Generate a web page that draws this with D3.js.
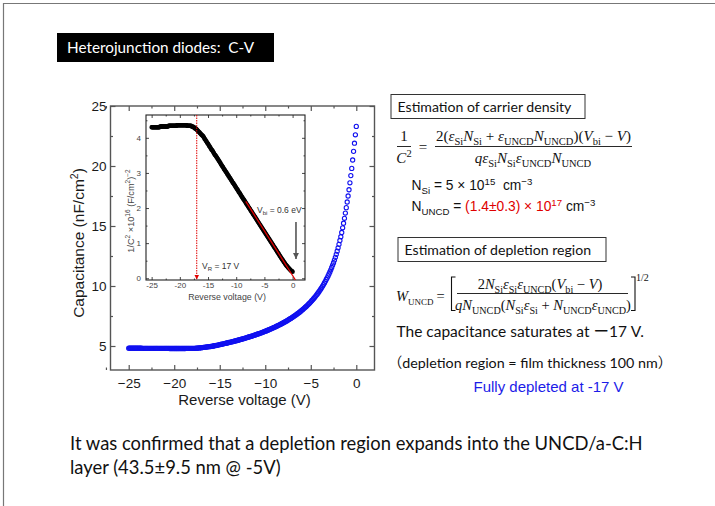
<!DOCTYPE html>
<html>
<head>
<meta charset="utf-8">
<script src="https://cdn.jsdelivr.net/npm/d3@7"></script>
<style>
  body { margin: 0; background: #fff; }
  svg { display: block; }
</style>
</head>
<body>
<svg id="slide" width="715" height="506"></svg>
<script>
// Reverse-voltage sweep (V), 0.1 V steps
const voltage = [
  -25,-24.9,-24.8,-24.7,-24.6,-24.5,-24.4,-24.3,-24.2,-24.1,
  -24,-23.9,-23.8,-23.7,-23.6,-23.5,-23.4,-23.3,-23.2,-23.1,
  -23,-22.9,-22.8,-22.7,-22.6,-22.5,-22.4,-22.3,-22.2,-22.1,
  -22,-21.9,-21.8,-21.7,-21.6,-21.5,-21.4,-21.3,-21.2,-21.1,
  -21,-20.9,-20.8,-20.7,-20.6,-20.5,-20.4,-20.3,-20.2,-20.1,
  -20,-19.9,-19.8,-19.7,-19.6,-19.5,-19.4,-19.3,-19.2,-19.1,
  -19,-18.9,-18.8,-18.7,-18.6,-18.5,-18.4,-18.3,-18.2,-18.1,
  -18,-17.9,-17.8,-17.7,-17.6,-17.5,-17.4,-17.3,-17.2,-17.1,
  -17,-16.9,-16.8,-16.7,-16.6,-16.5,-16.4,-16.3,-16.2,-16.1,
  -16,-15.9,-15.8,-15.7,-15.6,-15.5,-15.4,-15.3,-15.2,-15.1,
  -15,-14.9,-14.8,-14.7,-14.6,-14.5,-14.4,-14.3,-14.2,-14.1,
  -14,-13.9,-13.8,-13.7,-13.6,-13.5,-13.4,-13.3,-13.2,-13.1,
  -13,-12.9,-12.8,-12.7,-12.6,-12.5,-12.4,-12.3,-12.2,-12.1,
  -12,-11.9,-11.8,-11.7,-11.6,-11.5,-11.4,-11.3,-11.2,-11.1,
  -11,-10.9,-10.8,-10.7,-10.6,-10.5,-10.4,-10.3,-10.2,-10.1,
  -10,-9.9,-9.8,-9.7,-9.6,-9.5,-9.4,-9.3,-9.2,-9.1,
  -9,-8.9,-8.8,-8.7,-8.6,-8.5,-8.4,-8.3,-8.2,-8.1,
  -8,-7.9,-7.8,-7.7,-7.6,-7.5,-7.4,-7.3,-7.2,-7.1,
  -7,-6.9,-6.8,-6.7,-6.6,-6.5,-6.4,-6.3,-6.2,-6.1,
  -6,-5.9,-5.8,-5.7,-5.6,-5.5,-5.4,-5.3,-5.2,-5.1,
  -5,-4.9,-4.8,-4.7,-4.6,-4.5,-4.4,-4.3,-4.2,-4.1,
  -4,-3.9,-3.8,-3.7,-3.6,-3.5,-3.4,-3.3,-3.2,-3.1,
  -3,-2.9,-2.8,-2.7,-2.6,-2.5,-2.4,-2.3,-2.2,-2.1,
  -2,-1.9,-1.8,-1.7,-1.6,-1.5,-1.4,-1.3,-1.2,-1.1,
  -1,-0.9,-0.8,-0.7,-0.6,-0.5,-0.4,-0.3,-0.2,-0.1,
  0
];

// Measured capacitance (nF/cm^2) at each voltage above
const capacitance = [
  4.82,4.82,4.82,4.82,4.82,4.82,4.82,4.82,4.82,4.82,
  4.82,4.82,4.82,4.82,4.82,4.81,4.81,4.81,4.81,4.81,
  4.81,4.81,4.81,4.81,4.81,4.81,4.81,4.81,4.81,4.81,
  4.80,4.80,4.80,4.80,4.80,4.80,4.80,4.80,4.80,4.80,
  4.80,4.80,4.80,4.80,4.80,4.79,4.79,4.79,4.79,4.79,
  4.79,4.79,4.79,4.79,4.79,4.79,4.79,4.79,4.79,4.79,
  4.79,4.79,4.79,4.80,4.80,4.80,4.80,4.80,4.80,4.80,
  4.80,4.81,4.81,4.81,4.82,4.82,4.83,4.84,4.84,4.85,
  4.86,4.87,4.88,4.89,4.90,4.91,4.92,4.93,4.94,4.95,
  4.96,4.97,4.98,5.00,5.02,5.03,5.05,5.06,5.08,5.10,
  5.11,5.13,5.15,5.16,5.18,5.20,5.22,5.23,5.25,5.27,
  5.29,5.31,5.33,5.34,5.36,5.38,5.40,5.42,5.44,5.46,
  5.48,5.50,5.52,5.55,5.57,5.59,5.61,5.63,5.66,5.68,
  5.70,5.73,5.75,5.77,5.80,5.82,5.85,5.87,5.90,5.92,
  5.95,5.98,6.00,6.03,6.06,6.08,6.11,6.14,6.17,6.20,
  6.23,6.26,6.29,6.32,6.36,6.39,6.42,6.45,6.49,6.52,
  6.56,6.59,6.63,6.67,6.70,6.74,6.78,6.82,6.86,6.90,
  6.94,6.98,7.03,7.07,7.11,7.16,7.21,7.25,7.30,7.35,
  7.40,7.45,7.50,7.56,7.61,7.67,7.72,7.78,7.84,7.90,
  7.97,8.03,8.10,8.16,8.23,8.30,8.37,8.45,8.52,8.60,
  8.68,8.77,8.85,8.94,9.03,9.12,9.22,9.32,9.42,9.53,
  9.64,9.75,9.87,9.99,10.12,10.25,10.39,10.54,10.68,10.84,
  11.00,11.17,11.35,11.54,11.74,11.94,12.16,12.39,12.64,12.90,
  13.18,13.47,13.79,14.11,14.46,14.85,15.23,15.64,16.08,16.53,
  17.00,17.50,18.02,18.60,19.20,19.80,20.50,21.22,21.90,22.60,
  23.30
];

// Axis ticks
const mainXTicks = [-25, -20, -15, -10, -5, 0];
const mainXMinor = [-27.5, -22.5, -17.5, -12.5, -7.5, -2.5];
const mainYTicks = [5, 10, 15, 20, 25];
const mainYMinor = [7.5, 12.5, 17.5, 22.5];
const insetXTicks = [-25, -20, -15, -10, -5, 0];
const insetXMinor = [-22.5, -17.5, -12.5, -7.5, -2.5];
const insetYTicks = [0, 1, 2, 3, 4];
const insetYMinor = [0.5, 1.5, 2.5, 3.5, 4.5];

// Linear fit of 1/C^2 (x10^16) and the marked voltages
const fitVoltage = [-8.3, 0.5];
const fitInvC2 = [2.19, -0.05];
const saturationVoltage = -17;
const builtInVoltage = 0.6;
const vbiArrowInvC2 = [1.6, 0.55];

const svg = d3.select("#slide");
const SANS = "'Liberation Sans', Arial, sans-serif";
const BODY = "Lato, 'Noto Sans', 'Noto Sans CJK JP', sans-serif";
const SERIF = "'Liberation Serif', 'Times New Roman', serif";

// Slide frame
svg.append("line").attr("x1", 3).attr("x2", 715).attr("y1", 3.5).attr("y2", 3.5)
  .attr("stroke", "#777").attr("stroke-width", 1.2);
svg.append("line").attr("x1", 3.5).attr("x2", 3.5).attr("y1", 3).attr("y2", 506)
  .attr("stroke", "#777").attr("stroke-width", 1.2);

// Title tag
svg.append("rect").attr("x", 57).attr("y", 33).attr("width", 217).attr("height", 29).attr("fill", "#000");
svg.append("text").attr("x", 67).attr("y", 53).attr("fill", "#fff")
  .style("font-family", BODY).style("font-size", "15.3px")
  .text("Heterojunction diodes:\u00a0 C-V");

// ---------- Main C-V plot ----------
const M = { left: 110.5, right: 374.5, top: 106, bottom: 370 };
const x = d3.scaleLinear().domain([-27, 2]).range([M.left, M.right]);
const y = d3.scaleLinear().domain([3, 25]).range([M.bottom, M.top]);
const main = svg.append("g");
const axisColor = "#555";

function styleAxis(g) {
  g.select(".domain").remove();
  g.selectAll("line").attr("stroke", axisColor).attr("stroke-width", 1.2);
  g.selectAll("text").style("font-family", SANS).attr("fill", "#1a1a1a");
}

main.append("g").attr("transform", `translate(0,${M.bottom})`)
  .call(d3.axisBottom(x).tickValues(mainXTicks).tickSize(-5).tickPadding(8))
  .call(styleAxis).selectAll("text").style("font-size", "13.5px");
main.append("g").attr("transform", `translate(0,${M.bottom})`)
  .call(d3.axisBottom(x).tickValues(mainXMinor).tickSize(-2.5).tickFormat(""))
  .call(styleAxis);
main.append("g").attr("transform", `translate(0,${M.top})`)
  .call(d3.axisTop(x).tickValues(mainXTicks).tickSize(-5).tickFormat(""))
  .call(styleAxis);
main.append("g").attr("transform", `translate(0,${M.top})`)
  .call(d3.axisTop(x).tickValues(mainXMinor).tickSize(-2.5).tickFormat(""))
  .call(styleAxis);
main.append("g").attr("transform", `translate(${M.left},0)`)
  .call(d3.axisLeft(y).tickValues(mainYTicks).tickSize(-5).tickPadding(4))
  .call(styleAxis).selectAll("text").style("font-size", "13.5px");
main.append("g").attr("transform", `translate(${M.left},0)`)
  .call(d3.axisLeft(y).tickValues(mainYMinor).tickSize(-2.5).tickFormat(""))
  .call(styleAxis);
main.append("g").attr("transform", `translate(${M.right},0)`)
  .call(d3.axisRight(y).tickValues(mainYTicks).tickSize(-5).tickFormat(""))
  .call(styleAxis);
main.append("g").attr("transform", `translate(${M.right},0)`)
  .call(d3.axisRight(y).tickValues(mainYMinor).tickSize(-2.5).tickFormat(""))
  .call(styleAxis);

main.append("rect").attr("x", M.left).attr("y", M.top)
  .attr("width", M.right - M.left).attr("height", M.bottom - M.top)
  .attr("fill", "none").attr("stroke", axisColor).attr("stroke-width", 1.4);

main.append("text")
  .attr("x", (M.left + M.right) / 2 + 2).attr("y", 405)
  .attr("text-anchor", "middle").attr("fill", "#1a1a1a")
  .style("font-family", SANS).style("font-size", "15px")
  .text("Reverse voltage (V)");

const yTitle = main.append("text")
  .attr("transform", "translate(84,243) rotate(-90)")
  .attr("text-anchor", "middle").attr("fill", "#1a1a1a")
  .style("font-family", SANS).style("font-size", "15.5px");
yTitle.append("tspan").text("Capacitance (nF/cm");
yTitle.append("tspan").attr("dy", -6).style("font-size", "10.5px").text("2");
yTitle.append("tspan").attr("dy", 6).text(")");

const cvPoints = voltage.map((v, i) => ({ v, c: capacitance[i] }));
main.append("g").selectAll("circle").data(cvPoints).join("circle")
  .attr("cx", d => x(d.v)).attr("cy", d => y(d.c)).attr("r", 2.1)
  .attr("fill", "none").attr("stroke", "#1010f0").attr("stroke-width", 1.1);

// ---------- Inset: 1/C^2 vs V ----------
const I = { left: 146, right: 305, top: 115, bottom: 280 };
const ix = d3.scaleLinear().domain([-26, 2.2]).range([I.left, I.right]);
const iy = d3.scaleLinear().domain([-0.05, 4.65]).range([I.bottom, I.top]);
const inset = svg.append("g");
const insetFormat = d => (d < 0 ? "-" + Math.abs(d) : String(d));

inset.append("rect").attr("x", I.left).attr("y", I.top)
  .attr("width", I.right - I.left).attr("height", I.bottom - I.top)
  .attr("fill", "#fff");

function styleInset(g) {
  g.select(".domain").remove();
  g.selectAll("line").attr("stroke", "#333").attr("stroke-width", 0.9);
  g.selectAll("text").style("font-family", SANS).style("font-size", "8px").attr("fill", "#444");
}
inset.append("g").attr("transform", `translate(0,${I.bottom})`)
  .call(d3.axisBottom(ix).tickValues(insetXTicks).tickSize(-3).tickPadding(2.5).tickFormat(insetFormat))
  .call(styleInset);
inset.append("g").attr("transform", `translate(0,${I.bottom})`)
  .call(d3.axisBottom(ix).tickValues(insetXMinor).tickSize(-1.5).tickFormat("")).call(styleInset);
inset.append("g").attr("transform", `translate(0,${I.top})`)
  .call(d3.axisTop(ix).tickValues(insetXTicks).tickSize(-3).tickFormat("")).call(styleInset);
inset.append("g").attr("transform", `translate(0,${I.top})`)
  .call(d3.axisTop(ix).tickValues(insetXMinor).tickSize(-1.5).tickFormat("")).call(styleInset);
inset.append("g").attr("transform", `translate(${I.left},0)`)
  .call(d3.axisLeft(iy).tickValues(insetYTicks).tickSize(-3).tickPadding(5).tickFormat(insetFormat))
  .call(styleInset);
inset.append("g").attr("transform", `translate(${I.left},0)`)
  .call(d3.axisLeft(iy).tickValues(insetYMinor).tickSize(-1.5).tickFormat("")).call(styleInset);
inset.append("g").attr("transform", `translate(${I.right},0)`)
  .call(d3.axisRight(iy).tickValues(insetYTicks).tickSize(-3).tickFormat("")).call(styleInset);
inset.append("g").attr("transform", `translate(${I.right},0)`)
  .call(d3.axisRight(iy).tickValues(insetYMinor).tickSize(-1.5).tickFormat("")).call(styleInset);

inset.append("rect").attr("x", I.left).attr("y", I.top)
  .attr("width", I.right - I.left).attr("height", I.bottom - I.top)
  .attr("fill", "none").attr("stroke", "#222").attr("stroke-width", 1.1);

// 1/C^2 in units of 10^16 (F/cm^2)^-2, C given in nF/cm^2
const invPoints = cvPoints.map(d => ({ v: d.v, f: 100 / (d.c * d.c) }));
inset.append("g").selectAll("circle").data(invPoints).join("circle")
  .attr("cx", d => ix(d.v)).attr("cy", d => iy(d.f)).attr("r", 1.6)
  .attr("fill", "none").attr("stroke", "#000").attr("stroke-width", 1.3);

inset.append("line")
  .attr("x1", ix(fitVoltage[0])).attr("y1", iy(fitInvC2[0]))
  .attr("x2", ix(fitVoltage[1])).attr("y2", iy(fitInvC2[1]))
  .attr("stroke", "#e00000").attr("stroke-width", 1.3);

const defs = svg.append("defs");
defs.append("marker").attr("id", "redHead").attr("viewBox", "0 0 6 6")
  .attr("refX", 6).attr("refY", 3).attr("markerWidth", 5).attr("markerHeight", 5)
  .attr("orient", "auto").append("path").attr("d", "M0,0L6,3L0,6Z").attr("fill", "#e00000");
defs.append("marker").attr("id", "grayHead").attr("viewBox", "0 0 6 6")
  .attr("refX", 6).attr("refY", 3).attr("markerWidth", 4).attr("markerHeight", 4)
  .attr("orient", "auto").append("path").attr("d", "M0,0L6,3L0,6Z").attr("fill", "#555");

inset.append("line")
  .attr("x1", ix(saturationVoltage)).attr("x2", ix(saturationVoltage))
  .attr("y1", I.top).attr("y2", I.bottom - 0.5)
  .attr("stroke", "#e00000").attr("stroke-width", 1).attr("stroke-dasharray", "1.5,1")
  .attr("marker-end", "url(#redHead)");

inset.append("line")
  .attr("x1", ix(builtInVoltage)).attr("x2", ix(builtInVoltage))
  .attr("y1", iy(vbiArrowInvC2[0])).attr("y2", iy(vbiArrowInvC2[1]))
  .attr("stroke", "#555").attr("stroke-width", 1.6)
  .attr("marker-end", "url(#grayHead)");

const vbiLabel = inset.append("text").attr("x", 257).attr("y", 213)
  .attr("fill", "#333").style("font-family", SANS).style("font-size", "8.5px");
vbiLabel.append("tspan").text("V");
vbiLabel.append("tspan").attr("dy", 2).style("font-size", "6px").text("bi");
vbiLabel.append("tspan").attr("dy", -2).text(" = 0.6 eV");

const vrLabel = inset.append("text").attr("x", 202).attr("y", 269)
  .attr("fill", "#333").style("font-family", SANS).style("font-size", "8.5px");
vrLabel.append("tspan").text("V");
vrLabel.append("tspan").attr("dy", 2).style("font-size", "6px").text("R");
vrLabel.append("tspan").attr("dy", -2).text(" = 17 V");

inset.append("text").attr("x", 227).attr("y", 299.5)
  .attr("text-anchor", "middle").attr("fill", "#444")
  .style("font-family", SANS).style("font-size", "8.8px")
  .text("Reverse voltage (V)");

const iyTitle = inset.append("text").attr("transform", "translate(133.5,211) rotate(-90)")
  .attr("text-anchor", "middle").attr("fill", "#444")
  .style("font-family", SANS).style("font-size", "9.2px");
iyTitle.append("tspan").text("1/C");
iyTitle.append("tspan").attr("dy", -3.5).style("font-size", "6.5px").text("2");
iyTitle.append("tspan").attr("dy", 3.5).text(" \u00d710");
iyTitle.append("tspan").attr("dy", -3.5).style("font-size", "6.5px").text("16");
iyTitle.append("tspan").attr("dy", 3.5).text(" (F/cm");
iyTitle.append("tspan").attr("dy", -3.5).style("font-size", "6.5px").text("2");
iyTitle.append("tspan").attr("dy", 3.5).text(")");
iyTitle.append("tspan").attr("dy", -3.5).style("font-size", "6.5px").text("\u22122");

// ---------- Right-hand notes ----------
function rich(x0, y0, size, family, anchor, parts, subScale = 0.7) {
  const t = svg.append("text").attr("x", x0).attr("y", y0)
    .attr("text-anchor", anchor).style("font-family", family)
    .style("font-size", size + "px").attr("fill", "#111");
  let shift = 0;
  parts.forEach(p => {
    const target = p.sub ? size * 0.28 : p.sup ? -size * 0.38 : 0;
    const ts = t.append("tspan").text(p.t).attr("dy", target - shift);
    shift = target;
    if (p.sub || p.sup) ts.style("font-size", (size * subScale) + "px");
    if (p.i) ts.style("font-style", "italic");
    if (p.fill) ts.attr("fill", p.fill);
  });
  return t;
}

function noteBox(x0, y0, w, h, label, tx, ty) {
  svg.append("rect").attr("x", x0).attr("y", y0).attr("width", w).attr("height", h)
    .attr("fill", "#fff").attr("stroke", "#333").attr("stroke-width", 1);
  svg.append("text").attr("x", tx).attr("y", ty).attr("fill", "#111")
    .style("font-family", BODY).style("font-size", "14.1px").text(label);
}

noteBox(391, 94.5, 194, 24, "Estimation of carrier density", 397.5, 111.5);

// 1/C^2 relation
rich(404, 141, 15, SERIF, "middle", [{ t: "1" }]);
svg.append("line").attr("x1", 397).attr("x2", 411).attr("y1", 146.5).attr("y2", 146.5)
  .attr("stroke", "#111").attr("stroke-width", 0.9);
rich(404, 163, 15, SERIF, "middle", [{ t: "C", i: true }, { t: "2", sup: true }]);
rich(423, 151.5, 15, SERIF, "middle", [{ t: "=" }]);
rich(533.5, 141, 15, SERIF, "middle", [
  { t: "2(" }, { t: "\u03b5", i: true }, { t: "Si", sub: true }, { t: "N", i: true }, { t: "Si", sub: true },
  { t: " + " }, { t: "\u03b5", i: true }, { t: "UNCD", sub: true }, { t: "N", i: true }, { t: "UNCD", sub: true },
  { t: ")(" }, { t: "V", i: true }, { t: "bi", sub: true }, { t: " \u2212 " }, { t: "V", i: true }, { t: ")" }
]);
svg.append("line").attr("x1", 435).attr("x2", 632).attr("y1", 146.5).attr("y2", 146.5)
  .attr("stroke", "#111").attr("stroke-width", 0.9);
rich(533, 163, 15, SERIF, "middle", [
  { t: "q\u03b5", i: true }, { t: "Si", sub: true }, { t: "N", i: true }, { t: "Si", sub: true },
  { t: "\u03b5", i: true }, { t: "UNCD", sub: true }, { t: "N", i: true }, { t: "UNCD", sub: true }
]);

rich(411.5, 190, 13.8, SANS, "start", [
  { t: "N" }, { t: "Si", sub: true }, { t: " = 5 \u00d7 10" }, { t: "15", sup: true },
  { t: "\u00a0 cm" }, { t: "\u22123", sup: true }
]);
rich(411.5, 211, 13.8, SANS, "start", [
  { t: "N" }, { t: "UNCD", sub: true }, { t: " = " }, { t: "(1.4\u00b10.3) \u00d7 10", fill: "#e00000" },
  { t: "17", sup: true, fill: "#e00000" }, { t: " cm" }, { t: "\u22123", sup: true }
]);

noteBox(398, 237.5, 208, 24, "Estimation of depletion region", 404.5, 255);

// Depletion width relation
rich(396, 301, 14.5, SERIF, "start", [{ t: "W", i: true }, { t: "UNCD", sub: true }], 0.62);
rich(440.5, 301, 14.5, SERIF, "middle", [{ t: "=" }]);
svg.append("path").attr("d", "M455.5,277 H451.5 V310.5 H455.5")
  .attr("fill", "none").attr("stroke", "#111").attr("stroke-width", 1.1);
svg.append("path").attr("d", "M631,277 H635 V310.5 H631")
  .attr("fill", "none").attr("stroke", "#111").attr("stroke-width", 1.1);
rich(540, 289, 14.5, SERIF, "middle", [
  { t: "2" }, { t: "N", i: true }, { t: "Si", sub: true }, { t: "\u03b5", i: true }, { t: "Si", sub: true },
  { t: "\u03b5", i: true }, { t: "UNCD", sub: true }, { t: "(" }, { t: "V", i: true }, { t: "bi", sub: true },
  { t: " \u2212 " }, { t: "V", i: true }, { t: ")" }
]);
svg.append("line").attr("x1", 457).attr("x2", 628).attr("y1", 293.5).attr("y2", 293.5)
  .attr("stroke", "#111").attr("stroke-width", 0.9);
rich(543, 310, 14.5, SERIF, "middle", [
  { t: "qN", i: true }, { t: "UNCD", sub: true }, { t: "(" }, { t: "N", i: true }, { t: "Si", sub: true },
  { t: "\u03b5", i: true }, { t: "Si", sub: true }, { t: " + " }, { t: "N", i: true }, { t: "UNCD", sub: true },
  { t: "\u03b5", i: true }, { t: "UNCD", sub: true }, { t: ")" }
]);
rich(636, 281, 10, SERIF, "start", [{ t: "1/2" }]);

svg.append("text").attr("x", 396.5).attr("y", 337).attr("fill", "#111")
  .style("font-family", BODY).style("font-size", "15.5px")
  .text("The capacitance saturates at \u30fc17 V.");
svg.append("text").attr("x", 388).attr("y", 368).attr("fill", "#111")
  .style("font-family", BODY).style("font-size", "14.3px")
  .text("\uff08depletion region = film thickness 100 nm\uff09");
svg.append("text").attr("x", 473.5).attr("y", 392).attr("fill", "#1c1ce8")
  .style("font-family", SANS).style("font-size", "15px")
  .text("Fully depleted at -17 V");

// Conclusion
const conclusion = svg.append("text").attr("fill", "#111")
  .style("font-family", BODY).style("font-size", "18.4px");
conclusion.append("tspan").attr("x", 70).attr("y", 450)
  .text("It was confirmed that a depletion region expands into the UNCD/a-C:H");
conclusion.append("tspan").attr("x", 70).attr("y", 474)
  .text("layer (43.5\u00b19.5 nm @ -5V)");
</script>
</body>
</html>
